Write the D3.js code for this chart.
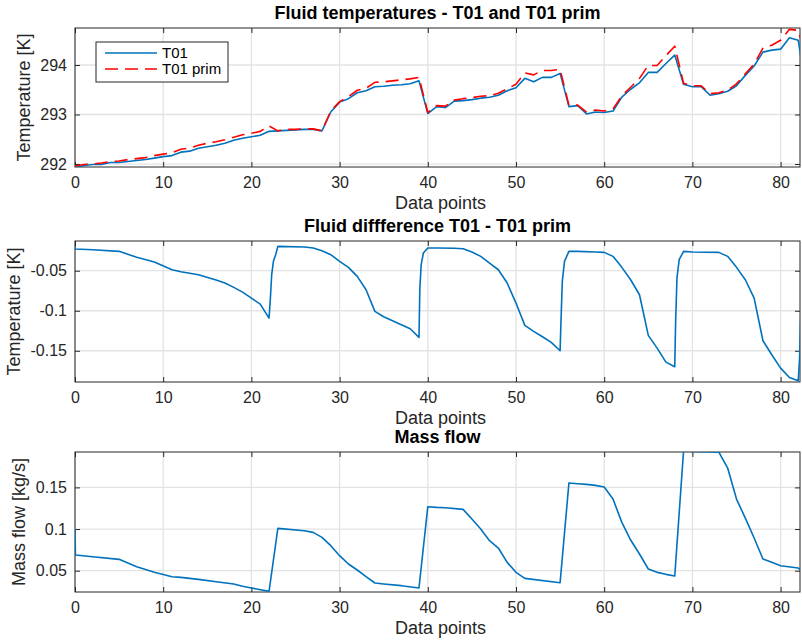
<!DOCTYPE html>
<html>
<head>
<meta charset="utf-8">
<script src="https://cdn.jsdelivr.net/npm/d3@7"></script>
<style>
  body { margin: 0; background: #fff; }
  svg { font-family: "Liberation Sans", Arial, sans-serif; }
</style>
</head>
<body>
<svg id="chart" width="802" height="641"></svg>
<script>
// --- data ---
// panel 1: one value per data point (x = index)
const t01 = [291.93, 291.97, 291.99, 291.99, 292.03, 292.03, 292.05, 292.07, 292.09, 292.12,
  292.15, 292.17, 292.24, 292.26, 292.32, 292.35, 292.38, 292.42, 292.48, 292.52,
  292.55, 292.58, 292.66, 292.67, 292.68, 292.69, 292.70, 292.70, 292.67, 293.05,
  293.25, 293.32, 293.44, 293.48, 293.56, 293.57, 293.59, 293.60, 293.62, 293.68,
  293.02, 293.16, 293.14, 293.27, 293.28, 293.30, 293.33, 293.35, 293.39, 293.48,
  293.54, 293.73, 293.66, 293.75, 293.75, 293.83, 293.16, 293.18, 293.01, 293.05,
  293.04, 293.07, 293.35, 293.51, 293.64, 293.85, 293.85, 294.03, 294.20, 293.61,
  293.56, 293.56, 293.39, 293.42, 293.47, 293.58, 293.79, 293.98, 294.26, 294.30,
  294.32, 294.55, 294.50, 293.35];
const t01prim = [291.96, 291.99, 292.00, 292.02, 292.05, 292.06, 292.09, 292.11, 292.13, 292.17,
  292.20, 292.23, 292.30, 292.32, 292.38, 292.42, 292.45, 292.49, 292.54, 292.59,
  292.62, 292.66, 292.77, 292.67, 292.70, 292.70, 292.71, 292.71, 292.67, 293.07,
  293.26, 293.36, 293.49, 293.53, 293.65, 293.66, 293.68, 293.70, 293.72, 293.75,
  293.04, 293.18, 293.17, 293.29, 293.32, 293.34, 293.37, 293.38, 293.43, 293.52,
  293.61, 293.84, 293.80, 293.89, 293.89, 293.91, 293.19, 293.19, 293.05, 293.09,
  293.07, 293.11, 293.38, 293.55, 293.73, 293.99, 293.99, 294.19, 294.38, 293.63,
  293.58, 293.58, 293.42, 293.44, 293.49, 293.62, 293.82, 294.02, 294.34, 294.40,
  294.50, 294.72, 294.70, 294.10];

// panel 2: difference T01 - T01 prim
const diffX = [0, 0.05, 2, 5, 7, 9, 11, 12, 14, 16, 17, 18, 19, 20, 21, 22, 22.15, 22.3, 22.5, 22.75,
  23, 26, 27, 28, 29, 30, 31, 32, 33, 34, 35, 36, 37, 38, 39, 39.1, 39.25, 39.5, 40, 41,
  43, 44, 45, 46, 47, 48, 49, 50, 51, 52, 53, 54, 55, 55.1, 55.25, 55.5, 56, 57, 59, 60,
  61, 62, 63, 64, 65, 66, 67, 68, 68.1, 68.25, 68.5, 69, 70, 73, 74, 75, 76, 77, 78, 79,
  80, 81, 82, 82.15, 82.3, 83];
const diffV = [-0.0196, -0.0229, -0.0238, -0.0258, -0.0333, -0.0392, -0.0488, -0.0513, -0.055, -0.0617,
  -0.0654, -0.0708, -0.0767, -0.0842, -0.0917, -0.1092, -0.085, -0.055, -0.038, -0.03,
  -0.0196, -0.0204, -0.0217, -0.025, -0.03, -0.0383, -0.0458, -0.0571, -0.0738, -0.1008,
  -0.1075, -0.1125, -0.1175, -0.1225, -0.1333, -0.0717, -0.0425, -0.0279, -0.0217, -0.0217,
  -0.022, -0.0225, -0.0267, -0.0321, -0.0404, -0.0488, -0.0654, -0.0904, -0.1183, -0.1258,
  -0.1325, -0.1396, -0.15, -0.1133, -0.0633, -0.0383, -0.0258, -0.0258, -0.0267, -0.0271,
  -0.0321, -0.0458, -0.0613, -0.08, -0.1308, -0.1467, -0.1642, -0.17, -0.1133, -0.0592,
  -0.0363, -0.0258, -0.0267, -0.0271, -0.0321, -0.0458, -0.0613, -0.0842, -0.1375, -0.155,
  -0.1717, -0.1833, -0.1875, -0.16, -0.10, -0.03];

// panel 3: mass flow
const massX = [0, 0.05, 2, 5, 7, 9, 11, 12, 14, 16, 18, 19, 20, 22, 23, 26, 27, 28, 29, 30,
  31, 32, 33, 34, 35, 37, 39, 40, 41, 42, 44, 45, 46, 47, 48, 49, 50, 51, 55, 56,
  57, 58, 59, 60, 61, 62, 63, 64, 65, 66, 67, 68, 69, 70, 73, 74, 75, 76, 77, 78,
  79, 80, 82, 83];
const massV = [0.1, 0.0688, 0.0668, 0.0636, 0.0548, 0.048, 0.0428, 0.042, 0.0396, 0.0368,
  0.034, 0.0312, 0.0292, 0.0252, 0.1008, 0.098, 0.096, 0.09, 0.08, 0.068,
  0.058, 0.0508, 0.0428, 0.0352, 0.034, 0.032, 0.0292, 0.1268, 0.126, 0.1256,
  0.1236, 0.112, 0.1, 0.086, 0.0772, 0.06, 0.048, 0.0408, 0.0356, 0.1552,
  0.1544, 0.1536, 0.1524, 0.1504, 0.136, 0.108, 0.0868, 0.07, 0.052, 0.048,
  0.0456, 0.0436, 0.194, 0.1932, 0.1924, 0.1732, 0.136, 0.1132, 0.0892, 0.064,
  0.06, 0.056, 0.0532, 0.045];

const xTicks = [0, 10, 20, 30, 40, 50, 60, 70, 80];
const tempTicks = [292, 293, 294];
const diffTicks = [-0.15, -0.1, -0.05];
const diffTickLabels = ["-0.15", "-0.1", "-0.05"];
const massTicks = [0.05, 0.1, 0.15];
const massTickLabels = ["0.05", "0.1", "0.15"];

const blue = "#0072BD";
const red = "#FF0000";
const axisColor = "#262626";

const svg = d3.select("#chart");
const left = 75, right = 800;

let x = d3.scaleLinear().domain([0, 82.2]).range([left, right]);

// one MATLAB style axes box
function makePanel(cfg) {
  let y = d3.scaleLinear().domain(cfg.yDomain).range([cfg.bottom, cfg.top]);
  let g = svg.append("g");

  let clipId = "clip" + cfg.id;
  svg.append("clipPath").attr("id", clipId)
    .append("rect")
    .attr("x", left).attr("y", cfg.top)
    .attr("width", right - left).attr("height", cfg.bottom - cfg.top);

  // grid
  g.selectAll(".gx").data(xTicks).enter().append("line")
    .attr("x1", (d) => x(d)).attr("x2", (d) => x(d))
    .attr("y1", cfg.top).attr("y2", cfg.bottom)
    .attr("stroke", "#e3e3e3").attr("stroke-width", 1.3);
  g.selectAll(".gy").data(cfg.yTicks).enter().append("line")
    .attr("x1", left).attr("x2", right)
    .attr("y1", (d) => y(d)).attr("y2", (d) => y(d))
    .attr("stroke", "#e3e3e3").attr("stroke-width", 1.3);

  // axes through d3 (ticks pointing inward)
  let xb = g.append("g").attr("transform", `translate(0,${cfg.bottom})`)
    .call(d3.axisBottom(x).tickValues(xTicks).tickSize(-5).tickPadding(10).tickFormat(d3.format("d")));
  let xt = g.append("g").attr("transform", `translate(0,${cfg.top})`)
    .call(d3.axisTop(x).tickValues(xTicks).tickSize(-5).tickFormat(""));
  let yl = g.append("g").attr("transform", `translate(${left},0)`)
    .call(d3.axisLeft(y).tickValues(cfg.yTicks).tickSize(-5).tickPadding(8)
      .tickFormat((d, i) => cfg.yLabels[i]));
  let yr = g.append("g").attr("transform", `translate(${right},0)`)
    .call(d3.axisRight(y).tickValues(cfg.yTicks).tickSize(-5).tickFormat(""));

  [xb, xt, yl, yr].forEach((a) => {
    a.select(".domain").remove();
    a.selectAll("line").attr("stroke", axisColor).attr("stroke-width", 1);
    a.selectAll("text").attr("fill", axisColor)
      .style("font-size", "16px").style("font-family", "'Liberation Sans', Arial, sans-serif");
  });

  g.append("rect")
    .attr("x", left).attr("y", cfg.top)
    .attr("width", right - left).attr("height", cfg.bottom - cfg.top)
    .attr("fill", "none").attr("stroke", axisColor).attr("stroke-width", 1);

  // series
  cfg.series.forEach((s) => {
    let line = d3.line().x((d) => x(d[0])).y((d) => y(d[1]));
    g.append("path")
      .datum(s.points)
      .attr("clip-path", `url(#${clipId})`)
      .attr("d", line)
      .attr("fill", "none")
      .attr("stroke", s.color)
      .attr("stroke-width", s.width)
      .attr("stroke-dasharray", s.dash || null)
      .attr("stroke-linejoin", "round");
  });

  // titles and labels
  g.append("text")
    .attr("x", (left + right) / 2).attr("y", cfg.top - 9.5)
    .attr("text-anchor", "middle")
    .style("font-size", "18px").style("font-weight", "bold")
    .text(cfg.title);
  g.append("text")
    .attr("x", (left + right) / 2 + 3).attr("y", cfg.bottom + 42)
    .attr("text-anchor", "middle").attr("fill", axisColor)
    .style("font-size", "18px")
    .text("Data points");
  g.append("text")
    .attr("transform", `translate(${cfg.ylabelX},${(cfg.top + cfg.bottom) / 2}) rotate(-90)`)
    .attr("text-anchor", "middle").attr("fill", axisColor)
    .style("font-size", "18px")
    .text(cfg.ylabel);

  return { g: g, y: y };
}

let p1 = makePanel({
  id: 1, top: 28, bottom: 167, yDomain: [291.94, 294.747],
  yTicks: tempTicks, yLabels: tempTicks.map(String),
  title: "Fluid temperatures - T01 and T01 prim",
  ylabel: "Temperature [K]", ylabelX: 30,
  series: [
    { points: t01.map((v, i) => [i, v]), color: blue, width: 1.6 },
    { points: t01prim.map((v, i) => [i, v]), color: red, width: 1.6, dash: "13,7" }
  ]
});

makePanel({
  id: 2, top: 241, bottom: 382, yDomain: [-0.189, -0.0129],
  yTicks: diffTicks, yLabels: diffTickLabels,
  title: "Fluid diffference T01 - T01 prim",
  ylabel: "Temperature [K]", ylabelX: 20,
  series: [{ points: diffX.map((d, i) => [d, diffV[i]]), color: blue, width: 1.6 }]
});

makePanel({
  id: 3, top: 452, bottom: 592, yDomain: [0.0244, 0.1925],
  yTicks: massTicks, yLabels: massTickLabels,
  title: "Mass flow",
  ylabel: "Mass flow [kg/s]", ylabelX: 25,
  series: [{ points: massX.map((d, i) => [d, massV[i]]), color: blue, width: 1.6 }]
});

// legend
let leg = p1.g.append("g");
leg.append("rect").attr("x", 96).attr("y", 42).attr("width", 132).attr("height", 40)
  .attr("fill", "#fff").attr("stroke", axisColor).attr("stroke-width", 1);
const legendItems = [
  { label: "T01", color: blue, dash: null },
  { label: "T01 prim", color: red, dash: "13,7" }
];
legendItems.forEach((it, i) => {
  let yy = 53 + i * 16;
  leg.append("line").attr("x1", 105).attr("x2", 157).attr("y1", yy).attr("y2", yy)
    .attr("stroke", it.color).attr("stroke-width", 1.6).attr("stroke-dasharray", it.dash);
  leg.append("text").attr("x", 162).attr("y", yy + 5)
    .style("font-size", "15px").attr("fill", "#000").text(it.label);
});
</script>
</body>
</html>
